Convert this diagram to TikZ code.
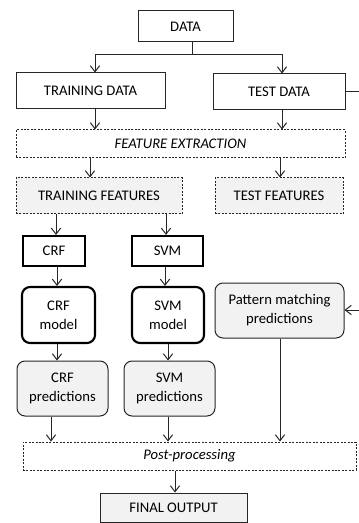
\documentclass[tikz,border=0pt]{standalone}
\usepackage{fontspec}
\setmainfont{Carlito}
\usetikzlibrary{arrows.meta}
\definecolor{boxfill}{HTML}{F2F2F2}
\definecolor{ink}{HTML}{262626}
\begin{document}
\begin{tikzpicture}[x=0.75pt,y=-0.75pt,
  font=\fontsize{11}{14.3}\selectfont,
  every node/.style={inner sep=0pt, align=center, text=black},
  sz/.style 2 args={minimum width=#1*0.75pt, minimum height=#2*0.75pt},
  plainbox/.style={draw=ink, line width=0.75pt},
  dashbox/.style={draw=ink, line width=0.75pt, dash pattern=on 1.5pt off 1.1pt},
  graybox/.style={dashbox, fill=boxfill},
  thickbox/.style={draw=black, line width=1.6pt},
  thickround/.style={thickbox, rounded corners=6pt},
  predbox/.style={draw=ink, line width=0.75pt, fill=boxfill, rounded corners=6pt},
  finalbox/.style={plainbox, fill=boxfill},
  link/.style={draw=ink, line width=0.75pt},
  arr/.style={link, -{Straight Barb[length=4.5pt,width=7pt,line width=0.75pt]}}]
\useasboundingbox (0,0) rectangle (358,523);

% boxes
\node[plainbox, sz={95}{31}] (data) at (185.5,26.5) {DATA};
\node[plainbox, sz={149}{36}] (train) at (90.5,91) {TRAINING DATA};
\node[plainbox, sz={132}{36}] (test) at (279,92) {TEST DATA};
\node[dashbox, sz={329}{28}] (fe) at (180.5,144) {\itshape FEATURE EXTRACTION};
\node[graybox, sz={166}{36}] (tf) at (99,196) {TRAINING FEATURES};
\node[graybox, sz={128}{36}] (tsf) at (279,196) {TEST FEATURES};
\node[thickbox, sz={62}{30}] (crf) at (54,251) {CRF};
\node[thickbox, sz={71}{30}] (svm) at (167.5,251) {SVM};
\node[thickround, sz={73}{56}] (crfm) at (58.5,315) {CRF\\model};
\node[thickround, sz={72}{56}] (svmm) at (168,315) {SVM\\model};
\node[predbox, sz={129}{55}] (pat) at (279.5,310.5) {Pattern matching\\predictions};
\node[predbox, sz={91}{55}] (crfp) at (62.5,388.5) {CRF\\predictions};
\node[predbox, sz={91}{55}] (svmp) at (169.5,388.5) {SVM\\predictions};
\node[dashbox, sz={333}{28}] (post) at (189.5,456) {\itshape Post-processing};
\node[finalbox, sz={147}{29}] (final) at (173.5,507.5) {FINAL OUTPUT};

% column guides for the connectors
\coordinate (split) at (192,55);
\coordinate (c51) at (51,0);
\coordinate (c56) at (56,0);
\coordinate (c57) at (57,0);
\coordinate (c90) at (90,0);
\coordinate (c95) at (95,0);
\coordinate (c165) at (165,0);
\coordinate (c166) at (166,0);
\coordinate (c168) at (168,0);
\coordinate (c175) at (175,0);
\coordinate (c280) at (280,0);
\coordinate (c282) at (282,0);
\coordinate (edgeA) at (360,92);
\coordinate (edgeB) at (360,310);

% data split
\draw[link] (split |- data.south) -- (split);
\draw[arr] (split) -| (c95 |- train.north);
\draw[arr] (split) -| (c282 |- test.north);

% into feature extraction
\draw[arr] (c95 |- train.south) -- (c95 |- fe.north);
\draw[arr] (c282 |- test.south) -- (c282 |- fe.north);

% out of feature extraction
\draw[arr] (c90 |- fe.south) -- (c90 |- tf.north);
\draw[arr] (c280 |- fe.south) -- (c280 |- tsf.north);

% training branch
\draw[arr] (c56 |- tf.south) -- (c56 |- crf.north);
\draw[arr] (c166 |- tf.south) -- (c166 |- svm.north);
\draw[arr] (c57 |- crf.south) -- (c57 |- crfm.north);
\draw[arr] (c165 |- svm.south) -- (c165 |- svmm.north);
\draw[arr] (c57 |- crfm.south) -- (c57 |- crfp.north);
\draw[arr] (c168 |- svmm.south) -- (c168 |- svmp.north);

% test data to pattern matching
\draw[link] (test.east |- edgeA) -- (edgeA) -- (edgeB);
\draw[arr] (edgeB) -- (pat.east |- edgeB);

% into post-processing
\draw[arr] (c51 |- crfp.south) -- (c51 |- post.north);
\draw[arr] (c168 |- svmp.south) -- (c168 |- post.north);
\draw[arr] (c280 |- pat.south) -- (c280 |- post.north);

% final output
\draw[arr] (c175 |- post.south) -- (c175 |- final.north);
\end{tikzpicture}
\end{document}
